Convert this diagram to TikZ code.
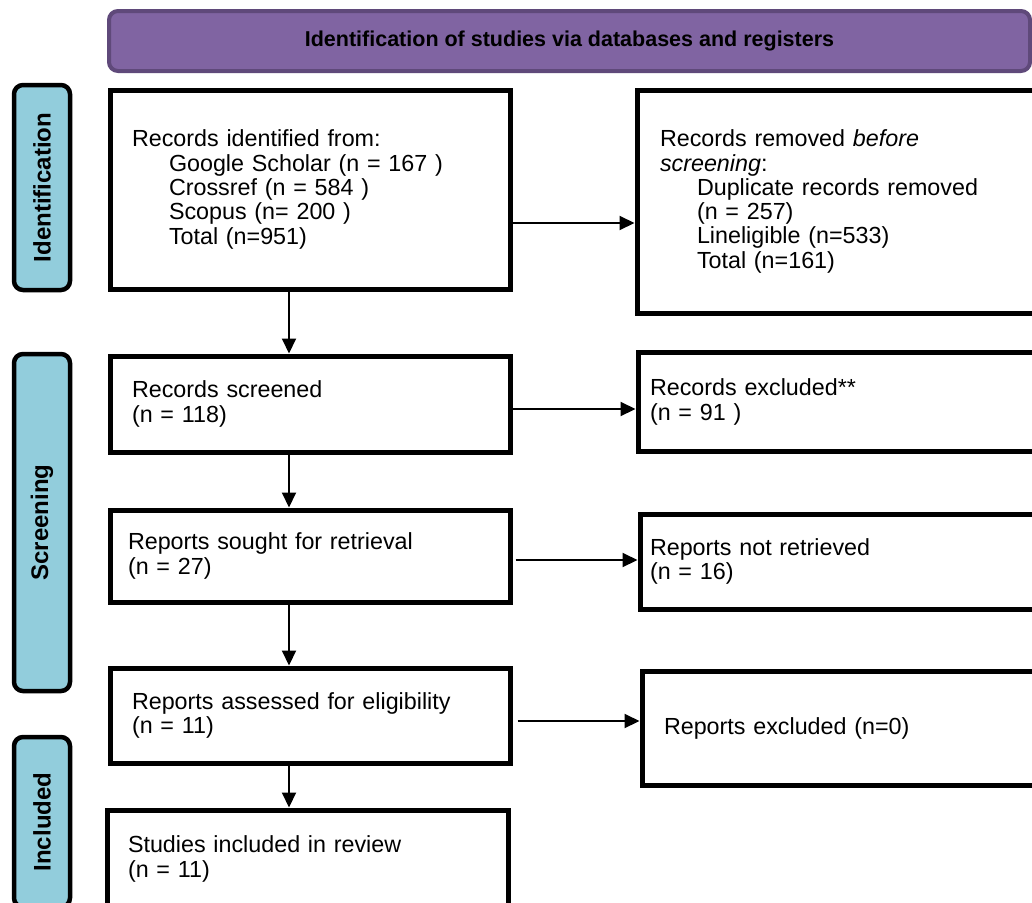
\documentclass[tikz,border=0pt]{standalone}
\usepackage{fontspec}
\setmainfont{Liberation Sans}
\usetikzlibrary{arrows.meta}
\definecolor{hdrfill}{HTML}{8064A2}
\definecolor{hdrdraw}{HTML}{5F497A}
\definecolor{sidefill}{HTML}{92CDDC}
\tikzset{
  boxnode/.style={draw=black, line width=5pt, fill=white, rectangle, align=left,
    font=\fontsize{23.3}{24.3}\selectfont, inner ysep=0pt, anchor=center},
  sidebox/.style={draw=black, line width=4.5pt, fill=sidefill, rounded corners=9pt,
    rectangle, minimum width=56pt, inner sep=0pt},
  sidetext/.style={font=\bfseries\fontsize{24}{26}\selectfont, rotate=90},
  arr/.style={line width=2pt, -{Triangle[length=15pt,width=14pt]}},
}
\newcommand{\ind}{\hspace*{37pt}}
\begin{document}
\begin{tikzpicture}[x=1pt,y=-1pt]
\clip (0,0) rectangle (1032,902);
\fill[white] (0,0) rectangle (1032,902);
% header
\node[draw=hdrdraw, line width=4pt, fill=hdrfill, rounded corners=9pt,
  minimum width=921pt, minimum height=60pt, inner sep=0pt,
  font=\bfseries\fontsize{21.5}{24}\selectfont] (hdr) at (569.5,41)
  {Identification of studies via databases and registers};
% side labels
\node[sidebox, minimum height=205pt] (sid) at (42,187.5) {};
\node[sidetext] (tid) at (sid.center) {Identification};
\node[sidebox, minimum height=337pt] (ssc) at (42,522.5) {};
\node[sidetext] (tsc) at (ssc.center) {Screening};
\node[sidebox, minimum height=170pt] (sin) at (42,822) {};
\node[sidetext] (tin) at (sin.center) {Included};
% left column
\node[boxnode, minimum width=400pt, minimum height=199pt, inner xsep=22pt, text width=356pt] (b1) at (310,189.5)
  {Records identified from:\\
   \ind Google Scholar (n = 167 )\\
   \ind Crossref (n = 584 )\\
   \ind Scopus (n= 200 )\\
   \ind Total (n=951)};
\node[boxnode, minimum width=400pt, minimum height=96pt, inner xsep=22pt, text width=356pt] (b3) at (310,404)
  {Records screened\\(n = 118)};
\node[boxnode, minimum width=400pt, minimum height=92pt, inner xsep=18pt, text width=364pt] (b5) at (310,556)
  {Reports sought for retrieval\\(n = 27)};
\node[boxnode, minimum width=400pt, minimum height=95pt, inner xsep=22pt, text width=356pt] (b7) at (310,715.5)
  {Reports assessed for eligibility\\(n = 11)};
\node[boxnode, minimum width=401pt, minimum height=98pt, inner xsep=21pt, text width=359pt] (b9) at (307.5,859)
  {Studies included in review\\(n = 11)};
% right column
\node[boxnode, minimum width=413pt, minimum height=223pt, inner xsep=23pt, text width=367pt] (b2) at (843.5,201.5)
  {Records removed \textit{before}\\
   \textit{screening}:\\
   \ind Duplicate records removed\\
   \ind (n = 257)\\
   \ind Lineligible (n=533)\\
   \ind Total (n=161)};
\node[boxnode, minimum width=412pt, minimum height=99pt, inner xsep=12pt, text width=388pt] (b4) at (844,402)
  {Records excluded**\\(n = 91 )};
\node[boxnode, minimum width=410pt, minimum height=95pt, inner xsep=10pt, text width=390pt] (b6) at (845,561.5)
  {Reports not retrieved\\(n = 16)};
\node[boxnode, minimum width=408pt, minimum height=114pt, inner xsep=22pt, text width=364pt] (b8) at (846,728)
  {Reports excluded (n=0)};
% connector heights
\coordinate (h1) at (0,223);
\coordinate (h2) at (0,409);
\coordinate (h3) at (0,560);
\coordinate (h4) at (0,721);
\coordinate (vx) at (289,0);
% horizontal arrows
\draw[arr] (b1.east |- h1) -- (b2.west |- h1);
\draw[arr] (b3.east |- h2) -- (b4.west |- h2);
\draw[arr] ([xshift=3pt]b5.east |- h3) -- (b6.west |- h3);
\draw[arr] ([xshift=5pt]b7.east |- h4) -- (b8.west |- h4);
% vertical arrows
\draw[arr] (vx |- b1.south) -- (vx |- b3.north);
\draw[arr] (vx |- b3.south) -- (vx |- b5.north);
\draw[arr] ([yshift=2pt]vx |- b5.south) -- (vx |- b7.north);
\draw[arr] ([yshift=2pt]vx |- b7.south) -- (vx |- b9.north);
\end{tikzpicture}
\end{document}
